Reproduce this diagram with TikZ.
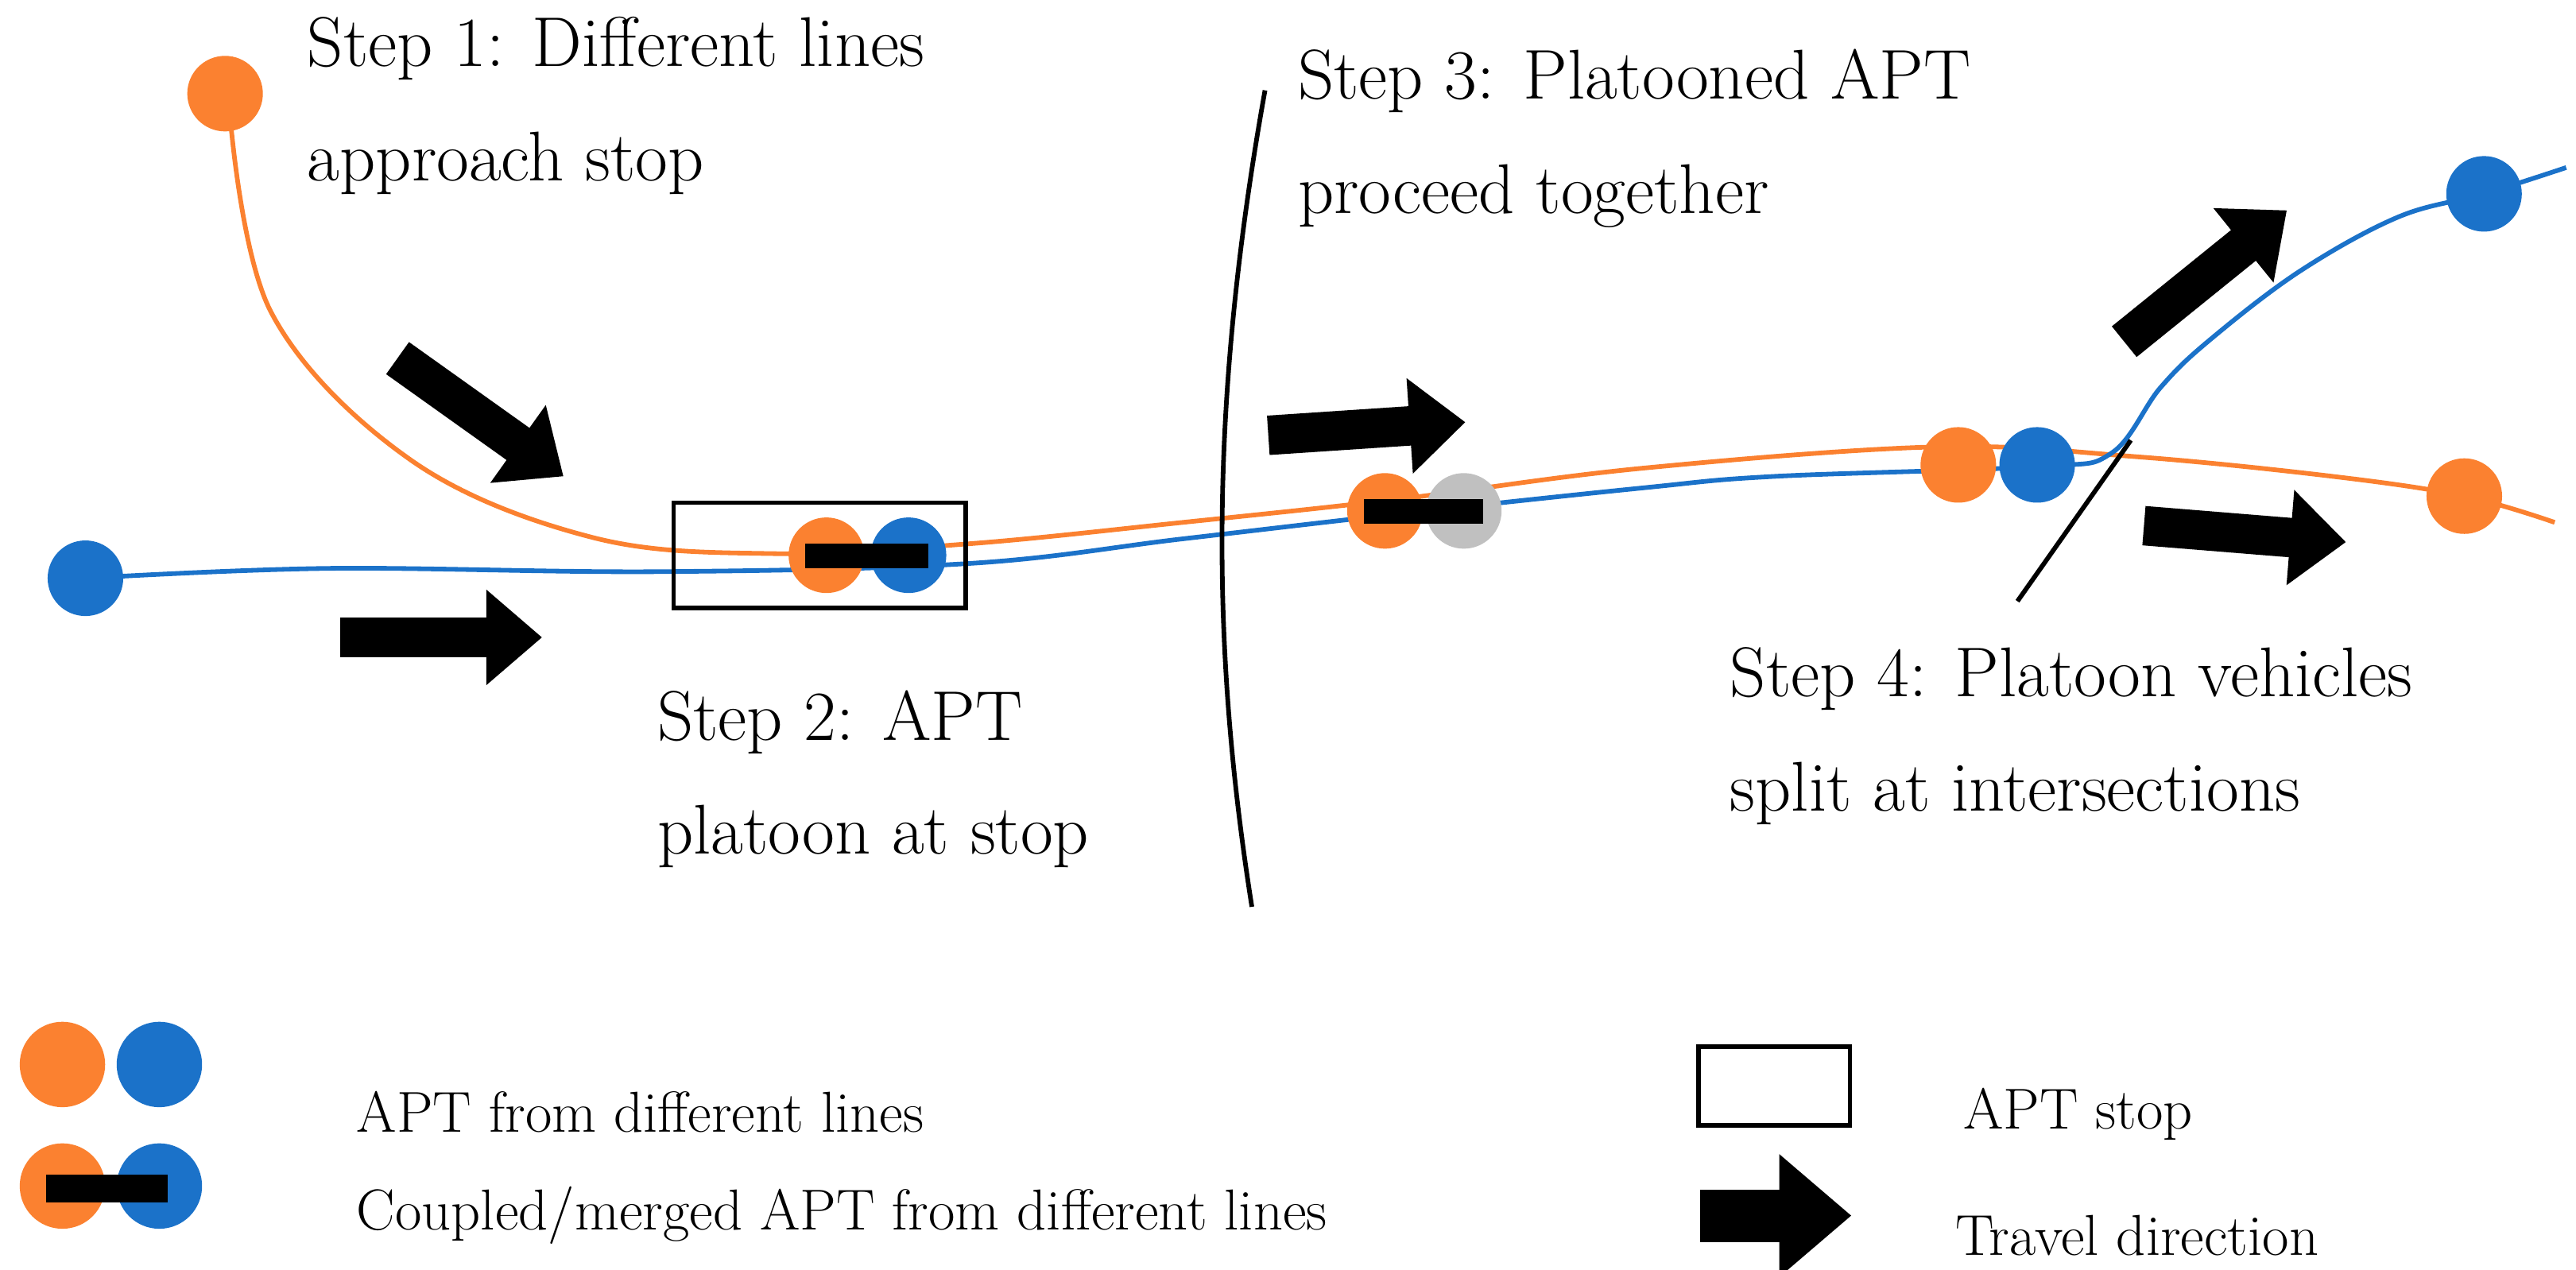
\documentclass[tikz,border=0pt]{standalone}
\usetikzlibrary{arrows.meta}
\definecolor{orn}{HTML}{FB8130}
\definecolor{blu}{HTML}{1B72C9}
\definecolor{gry}{HTML}{C0C0C0}
\begin{document}
\begin{tikzpicture}[x=0.05cm,y=-0.05cm,
  dot/.style={circle,minimum size=2.3cm,inner sep=0,fill=#1},
  bigdot/.style={circle,minimum size=2.6cm,inner sep=0,fill=#1},
  bar/.style={fill=black},
  barr/.style={line width=1.2cm,-{Triangle[length=1.7cm,width=2.8cm]}},
  steptxt/.style={anchor=north west,align=left,font=\fontsize{61}{99}\selectfont,inner sep=0},
  leg/.style={anchor=west,font=\fontsize{50}{60}\selectfont,inner sep=0},
  route/.style={line width=4pt}]
\useasboundingbox (0,0) rectangle (1568,773);
% routes
\draw[route,orn] plot[smooth,tension=0.6] coordinates{(140,70) (165,190) (250,280) (360,327) (470,337) (590,331) (720,318) (850,304) (1000,285) (1180,272) (1300,278) (1420,290) (1500,302) (1555,318)};
\draw[route,blu] plot[smooth,tension=0.6] coordinates{(52,352) (200,346) (400,348) (590,343) (720,328) (850,313) (1000,297) (1080,290) (1240,284) (1285,276) (1315,236) (1345,207) (1400,165) (1460,132) (1512,118) (1562,102)};
% dividers
\coordinate (d1) at (770,55); \coordinate (d2) at (762,552);
\draw[line width=4pt] (d1) .. controls (735,250) and (738,400) .. (d2);
\coordinate (e1) at (1228,366); \coordinate (e2) at (1297,268);
\draw[line width=4pt] (e1) -- (e2);
% stop
\node[draw,line width=4pt,minimum width=8.9cm,minimum height=3.2cm,inner sep=0] (stop) at (499,338) {};
% vehicles
\node[dot=orn] (o1) at (137,57) {};
\node[dot=blu] (b1) at (52,352) {};
\node[dot=orn] (o2) at (503,338) {};
\node[dot=blu] (b2) at (553,338) {};
\fill[bar] (490,331) rectangle (565,346);
\node[dot=orn] (o3) at (843,311) {};
\node[dot=gry] (g3) at (891,311) {};
\fill[bar] (830,304) rectangle (903,319);
\node[dot=orn] (o4) at (1192,283) {};
\node[dot=blu] (b4) at (1240,283) {};
\node[dot=blu] (b5) at (1512,118) {};
\node[dot=orn] (o5) at (1500,302) {};
% arrows
\coordinate (a1s) at (242,218); \coordinate (a1e) at (343,290);
\draw[barr] (a1s) -- (a1e);
\coordinate (a2s) at (207,388); \coordinate (a2e) at (330,388);
\draw[barr] (a2s) -- (a2e);
\coordinate (a3s) at (772,265); \coordinate (a3e) at (892,257);
\draw[barr] (a3s) -- (a3e);
\coordinate (a4s) at (1293,208); \coordinate (a4e) at (1392,128);
\draw[barr] (a4s) -- (a4e);
\coordinate (a5s) at (1305,320); \coordinate (a5e) at (1428,330);
\draw[barr] (a5s) -- (a5e);
% step texts
\node[steptxt] (s1) at (187,10) {Step 1: Different lines\\approach stop};
\node[steptxt] (s3) at (790,30) {Step 3: Platooned APT\\proceed together};
\node[steptxt] (s2) at (400,420) {Step 2: APT\\platoon at stop};
\node[steptxt] (s4) at (1053,394) {Step 4: Platoon vehicles\\split at intersections};
% legend
\node[bigdot=orn] (lo1) at (38,648) {};
\node[bigdot=blu] (lb1) at (97,648) {};
\node[bigdot=orn] (lo2) at (38,722) {};
\node[bigdot=blu] (lb2) at (97,722) {};
\fill[bar] (28,715) rectangle (102,732);
\node[leg] (l1) at (217,677) {APT from different lines};
\node[leg] (l2) at (217,740) {Coupled/merged APT from different lines};
\node[draw,line width=4pt,minimum width=4.6cm,minimum height=2.4cm,inner sep=0] (lstop) at (1080,661) {};
\node[leg] (l3) at (1195,678) {APT stop};
\coordinate (las) at (1035,740); \coordinate (lae) at (1127,740);
\draw[line width=1.6cm,-{Triangle[length=2.2cm,width=3.6cm]}] (las) -- (lae);
\node[leg] (l4) at (1190,752) {Travel direction};
\end{tikzpicture}
\end{document}
